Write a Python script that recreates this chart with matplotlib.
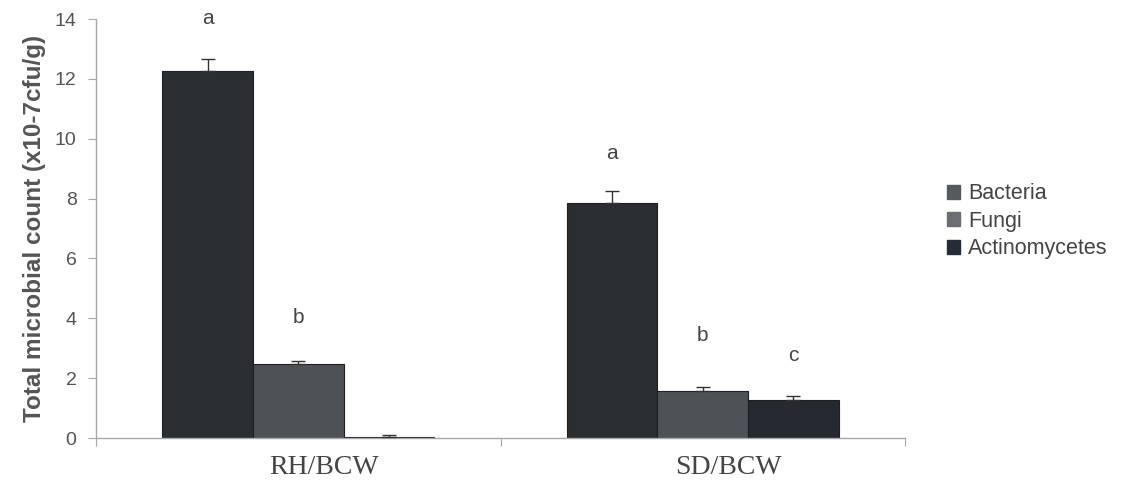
"""Total microbial count by treatment, grouped bars with significance letters."""

import matplotlib.pyplot as plt
import matplotlib.transforms as mtransforms
import numpy as np

groups = ["RH/BCW", "SD/BCW"]
series = ["Bacteria", "Fungi", "Actinomycetes"]
values = {
    "Bacteria": [12.25, 7.85],
    "Fungi": [2.48, 1.57],
    "Actinomycetes": [0.03, 1.27],
}
errors = {
    "Bacteria": [0.4, 0.4],
    "Fungi": [0.1, 0.12],
    "Actinomycetes": [0.08, 0.12],
}
letters = {
    "Bacteria": ["a", "a"],
    "Fungi": ["b", "b"],
    "Actinomycetes": ["", "c"],
}
letter_y = {
    "Bacteria": [13.7, 9.2],
    "Fungi": [3.7, 3.1],
    "Actinomycetes": [0, 2.45],
}

bar_colors = {"Bacteria": "#2a2d32", "Fungi": "#4e5257", "Actinomycetes": "#262a30"}
legend_colors = {"Bacteria": "#555a5f", "Fungi": "#6b6f73", "Actinomycetes": "#252c38"}

fig = plt.figure(figsize=(11.41, 4.94), dpi=100)
ax = fig.add_axes([96 / 1141, 1 - 438 / 494, 809 / 1141, 419 / 494])

x = np.arange(len(groups))
width = 0.224
axis_gray = "#a8a8a8"
text_gray = "#555555"

for i, name in enumerate(series):
    pos = x + (i - 1) * width
    ax.bar(pos, values[name], width, color=bar_colors[name], edgecolor="#1c1f24",
           linewidth=0.8, zorder=2)
    ax.errorbar(pos, values[name], yerr=[np.zeros(2), errors[name]], fmt="none",
                ecolor="#333333", elinewidth=1.0, capsize=5, capthick=1.0, zorder=3)
    for j in range(len(groups)):
        if letters[name][j]:
            ax.text(pos[j], letter_y[name][j], letters[name][j], ha="center",
                    va="bottom", fontsize=15, color="#444444",
                    family="Liberation Sans")

ax.set_xlim(-0.5, 1.5)
ax.set_ylim(0, 14)
ax.set_yticks(np.arange(0, 15, 2))
ax.set_xticks([-0.5, 0.5, 1.5])
ax.set_xticklabels([])
ax.tick_params(axis="x", length=6, color=axis_gray, direction="out")
ax.set_xticks(x, minor=True)
ax.set_xticklabels(groups, minor=True, fontsize=20, family="Liberation Serif",
                   color="#444444")
ax.tick_params(axis="x", which="minor", length=0, pad=12)
shift = mtransforms.ScaledTranslation(0.26, 0, fig.dpi_scale_trans)
for lab in ax.get_xticklabels(minor=True):
    lab.set_transform(lab.get_transform() + shift)
ax.tick_params(axis="y", length=6, color=axis_gray, labelsize=14,
               labelcolor=text_gray, pad=8)
for lab in ax.get_yticklabels():
    lab.set_family("Liberation Sans")

for side in ["top", "right"]:
    ax.spines[side].set_visible(False)
for side in ["left", "bottom"]:
    ax.spines[side].set_color(axis_gray)
    ax.spines[side].set_linewidth(1.0)

ax.set_ylabel("Total microbial count (x10-7cfu/g)", fontsize=17.5, fontweight="bold",
              color="#555555", family="Liberation Sans", labelpad=6)

handles = [plt.Rectangle((0, 0), 1, 1, color=legend_colors[n]) for n in series]
fig.legend(handles, series, loc="upper left", bbox_to_anchor=(928 / 1141, 1 - 164 / 494),
           frameon=False, handlelength=0.6, handleheight=0.6,
           handletextpad=0.35, labelspacing=0.3, labelcolor="#444444",
           prop={"family": "Liberation Sans", "size": 15.5})

fig.savefig("out.png", dpi=100)
